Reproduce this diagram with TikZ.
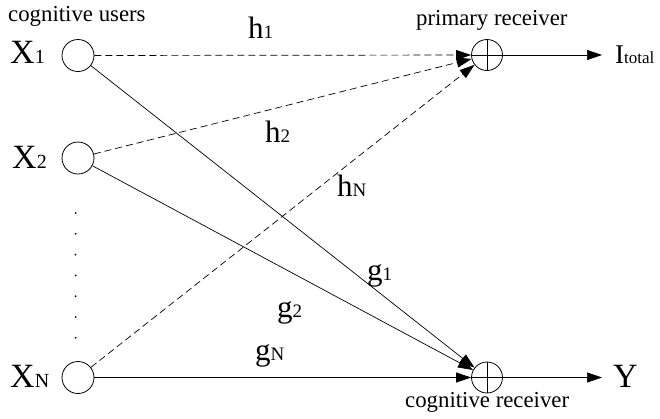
\documentclass[tikz,border=0pt]{standalone}
\usepackage{fontspec}
\setmainfont{Liberation Serif}
\usetikzlibrary{arrows.meta}
\newcommand\symlab[2]{{\fontsize{34}{34}\selectfont #1}{\fontsize{20}{20}\selectfont #2}}
\newcommand\chlab[2]{{\fontsize{31}{31}\selectfont #1}{\fontsize{19}{19}\selectfont #2}}
\begin{document}
\begin{tikzpicture}[x=1pt,y=-1pt,
  user/.style={circle,draw,minimum size=32pt,inner sep=0pt,line width=0.8pt},
  sumnode/.style={circle,draw,minimum size=31pt,inner sep=0pt,line width=0.8pt,
    path picture={\draw[line width=0.8pt] (path picture bounding box.north) -- (path picture bounding box.south)
      (path picture bounding box.west) -- (path picture bounding box.east);}},
  chan/.style={line width=0.7pt,-{Triangle[length=15pt,width=10pt]}},
  hch/.style={chan,dash pattern=on 7pt off 4pt},
  txt/.style={inner sep=0pt,anchor=base west,font=\fontsize{22.8}{24}\selectfont},
  sym/.style={inner sep=0pt,anchor=base west}
]
\useasboundingbox (0,0) rectangle (660,418);
% nodes
\node[user] (x1) at (78,55.5) {};
\node[user] (x2) at (78,158) {};
\node[user] (xn) at (78,377.5) {};
\node[sumnode] (pr) at (487,55) {};
\node[sumnode] (cr) at (487,377.5) {};
% texts
\node[txt] (tu) at (8,21) {cognitive users};
\node[txt] (tp) at (416,25) {primary receiver};
\node[txt] (tc) at (405,407) {cognitive receiver};
\node[sym] (lx1) at (10,63) {\symlab{X}{1}};
\node[sym] (lx2) at (12,168) {\symlab{X}{2}};
\node[sym] (lxn) at (10,387) {\symlab{X}{N}};
\node[sym] (li) at (615,63) {{\fontsize{27}{27}\selectfont I}{\fontsize{17}{17}\selectfont total}};
\node[sym] (ly) at (613,387) {{\fontsize{34}{34}\selectfont Y}};
% channel labels
\node[sym] (h1) at (248,38) {\chlab{h}{1}};
\node[sym] (h2) at (265,142) {\chlab{h}{2}};
\node[sym] (hn) at (337,196) {\chlab{h}{N}};
\node[sym] (g1) at (367,280) {\chlab{g}{1}};
\node[sym] (g2) at (277,317) {\chlab{g}{2}};
\node[sym] (gn) at (255,360) {\chlab{g}{N}};
% dots
\foreach \k in {0,...,6} \fill (75.6,213+20.8*\k) circle (1pt);
% outputs
\coordinate (outp) at (602,55);
\coordinate (outc) at (602,377.5);
% connectors
\draw[hch] (x1) -- (pr);
\draw[hch] (x2) -- (pr);
\draw[hch] (xn) -- (pr);
\draw[chan] (x1) -- (cr);
\draw[chan] (x2) -- (cr);
\draw[chan] (xn) -- (cr);
\draw[chan] (pr) -- (outp);
\draw[chan] (cr) -- (outc);
\end{tikzpicture}
\end{document}
